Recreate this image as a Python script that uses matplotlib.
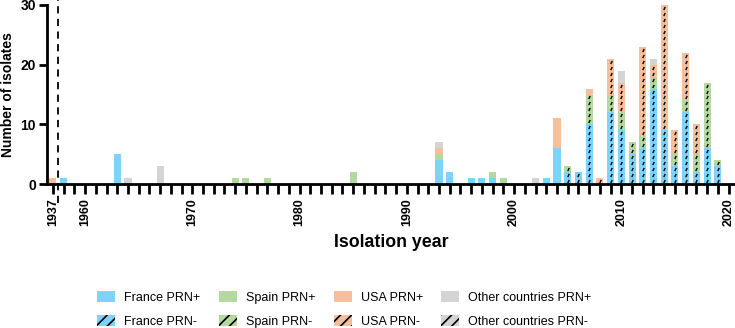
import matplotlib
matplotlib.use("Agg")
import matplotlib.pyplot as plt
import numpy as np
from matplotlib.patches import Patch
from matplotlib.path import Path

plt.rcParams['font.family'] = ['Liberation Sans', 'DejaVu Sans']
plt.rcParams['hatch.linewidth'] = 1.2

# ---- data ----
years = [1937, 1958, 1963, 1964, 1967, 1974, 1975, 1977, 1985, 1993, 1994,
         1996, 1997, 1998, 1999, 2002, 2003, 2004, 2005, 2006, 2007, 2008,
         2009, 2010, 2011, 2012, 2013, 2014, 2015, 2016, 2017, 2018, 2019]

france_pos = [0, 1, 5, 0, 0, 0, 0, 0, 0, 4, 2, 1, 1, 1, 0, 0, 1, 6, 0, 0, 0, 0, 0, 0, 0, 0, 0, 0, 0, 0, 0, 0, 0]
france_neg = [0, 0, 0, 0, 0, 0, 0, 0, 0, 0, 0, 0, 0, 0, 0, 0, 0, 0, 2, 2, 10, 0, 12, 9, 5, 6, 16, 9, 3, 12, 2, 6, 3]
spain_pos  = [0, 0, 0, 0, 0, 1, 1, 1, 2, 1, 0, 0, 0, 1, 1, 0, 0, 0, 0, 0, 0, 0, 0, 0, 0, 0, 0, 0, 0, 0, 0, 0, 0]
spain_neg  = [0, 0, 0, 0, 0, 0, 0, 0, 0, 0, 0, 0, 0, 0, 0, 0, 0, 0, 1, 0, 5, 0, 3, 3, 2, 2, 2, 0, 2, 2, 3, 11, 1]
usa_pos    = [1, 0, 0, 0, 0, 0, 0, 0, 0, 1, 0, 0, 0, 0, 0, 0, 0, 5, 0, 0, 1, 0, 0, 0, 0, 0, 0, 0, 0, 0, 0, 0, 0]
usa_neg    = [0, 0, 0, 0, 0, 0, 0, 0, 0, 0, 0, 0, 0, 0, 0, 0, 0, 0, 0, 0, 0, 1, 6, 5, 0, 15, 2, 21, 4, 8, 5, 0, 0]
other_pos  = [0, 0, 0, 1, 3, 0, 0, 0, 0, 1, 0, 0, 0, 0, 0, 1, 0, 0, 0, 0, 0, 0, 0, 2, 0, 0, 1, 0, 0, 0, 0, 0, 0]
other_neg  = [0] * len(years)

series_labels = ["France PRN+", "France PRN-", "Spain PRN+", "Spain PRN-",
                 "USA PRN+", "USA PRN-", "Other countries PRN+", "Other countries PRN-"]
tick_years = [1937, 1960, 1970, 1980, 1990, 2000, 2010, 2020]

# ---- styles ----
blue = "#7DD3FC"
green = "#B3D9A0"
orange = "#F5BF9E"
grey = "#D4D4D4"
series = [
    (france_pos, blue, False), (france_neg, blue, True),
    (spain_pos, green, False), (spain_neg, green, True),
    (usa_pos, orange, False), (usa_neg, orange, True),
    (other_pos, grey, False), (other_neg, grey, True),
]
slash = Path([(-0.45, -1.0), (0.45, 1.0)], [Path.MOVETO, Path.LINETO])

# 1937 is shown in the slot before 1958 (broken axis)
def pos(y):
    return 1957 if y < 1958 else y

xpos = np.array([pos(y) for y in years], dtype=float)

fig = plt.figure(figsize=(7.35, 3.28), dpi=100)
ax = fig.add_axes([47 / 735, 1 - 184 / 328, 688 / 735, 179 / 328])

bottom = np.zeros(len(years))
for vals, col, hatched in series:
    v = np.array(vals, dtype=float)
    ax.bar(xpos, v, width=0.66, bottom=bottom, color=col, linewidth=0, zorder=2)
    if hatched:
        mx, my = [], []
        for x, b, n in zip(xpos, bottom, v):
            for k in range(int(n)):
                mx.append(x)
                my.append(b + k + 0.5)
        if mx:
            ax.scatter(mx, my, marker=slash, s=5, c="black", linewidths=1.0,
                       zorder=3)
    bottom += v

ax.set_xlim(1956.45, 2020.6)
ax.set_ylim(0, 30)

all_ticks = list(range(1957, 2021))
ax.set_xticks(all_ticks)
lab = {pos(y): str(y) for y in tick_years}
ax.set_xticklabels([lab.get(t, "") for t in all_ticks], rotation=90,
                   fontsize=9, fontweight="bold")
ax.set_yticks([0, 10, 20, 30])
ax.set_yticklabels(["0", "10", "20", "30"], fontsize=10, fontweight="bold")
ax.tick_params(axis="x", length=7, width=2, pad=3)
ax.tick_params(axis="y", length=6, width=2, pad=2)

for s in ["top", "right"]:
    ax.spines[s].set_visible(False)
for s in ["left", "bottom"]:
    ax.spines[s].set_linewidth(2)

ax.plot([1957.5, 1957.5], [-0.106, 1.03], transform=ax.get_xaxis_transform(),
        color="black", lw=1.3, ls=(0, (4, 3)), clip_on=False, zorder=3)

ax.set_ylabel("Number of isolates", fontsize=10, fontweight="bold", labelpad=4)
ax.set_xlabel("Isolation year", fontsize=12.8, fontweight="bold", labelpad=6)

handles = [Patch(facecolor=c, hatch="///" if h else None,
                 edgecolor="black" if h else c, linewidth=0)
           for _, c, h in series]
fig.legend(handles, series_labels, ncol=4, loc="lower left",
           bbox_to_anchor=(86 / 735, -0.035), frameon=False, fontsize=9,
           handlelength=1.45, handleheight=0.97, handletextpad=0.72,
           columnspacing=1.45, labelspacing=0.9)

fig.savefig("out.png", dpi=100)
